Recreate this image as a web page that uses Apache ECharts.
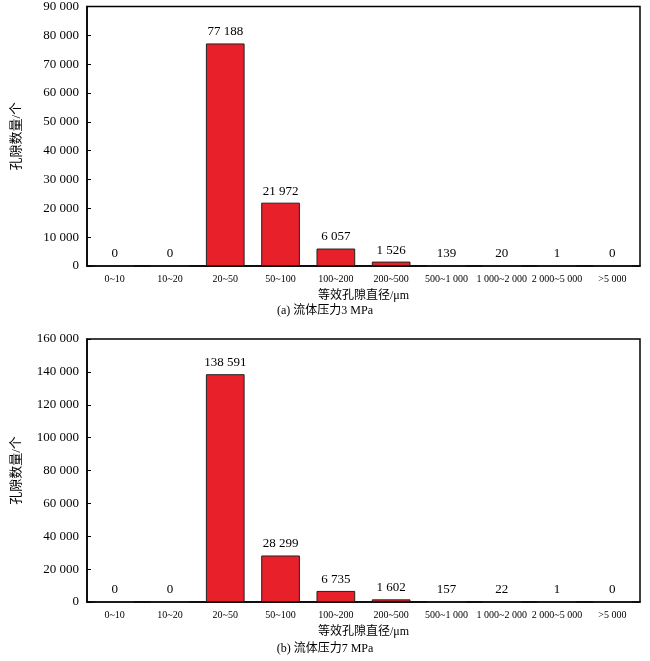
<!DOCTYPE html>
<html><head><meta charset="utf-8">
<script src="https://cdn.jsdelivr.net/npm/echarts@6/dist/echarts.min.js"></script>
<style>html,body{margin:0;padding:0;background:#fff}#c{width:650px;height:661px}</style>
</head><body><div id="c"></div>
<script>
var categories = ['0~10','10~20','20~50','50~100','100~200','200~500','500~1 000','1 000~2 000','2 000~5 000','>5 000'];
var valuesA = [0,0,77188,21972,6057,1526,139,20,1,0];
var valuesB = [0,0,138591,28299,6735,1602,157,22,1,0];
var font = '"Liberation Serif","Noto Sans CJK SC",serif';

function fmt(v){ return String(v).replace(/\B(?=(\d{3})+(?!\d))/g,' '); }

function xAxis(i){
  return {gridIndex:i,type:'category',data:categories,
    axisLine:{lineStyle:{color:'#000',width:1.5}},
    axisTick:{inside:true,length:4,lineStyle:{color:'#000'}},
    axisLabel:{color:'#000',fontFamily:font,fontSize:10,interval:0,margin:8},
    name:'等效孔隙直径/μm',nameLocation:'middle',nameGap:24,
    nameTextStyle:{color:'#000',fontFamily:font,fontSize:12}};
}
function yAxis(i,max,step){
  return {gridIndex:i,type:'value',min:0,max:max,interval:step,
    axisLine:{show:true,lineStyle:{color:'#000',width:1.5}},
    axisTick:{show:true,inside:true,length:4,lineStyle:{color:'#000'}},
    splitLine:{show:false},
    axisLabel:{color:'#000',fontFamily:font,fontSize:13,formatter:fmt},
    name:'孔隙数量/个',nameLocation:'middle',nameGap:64,
    nameTextStyle:{color:'#000',fontFamily:font,fontSize:13}};
}
function bars(i,data){
  return {type:'bar',xAxisIndex:i,yAxisIndex:i,data:data,barWidth:'70%',
    itemStyle:{color:'#e8202a',borderColor:'#222',borderWidth:1},
    label:{show:true,position:'top',color:'#000',fontFamily:font,fontSize:13,
      formatter:function(p){return fmt(p.value);}}};
}
var chart = echarts.init(document.getElementById('c'));
chart.setOption({
  animation:false,
  grid:[
    {left:87,right:10,top:5,height:261,show:true,borderColor:'#000',borderWidth:1.5},
    {left:87,right:10,top:339,height:263,show:true,borderColor:'#000',borderWidth:1.5}
  ],
  xAxis:[xAxis(0),xAxis(1)],
  yAxis:[yAxis(0,90000,10000),yAxis(1,160000,20000)],
  series:[bars(0,valuesA),bars(1,valuesB)],
  graphic:[
    {type:'text',left:'center',top:305,style:{text:'(a) 流体压力3 MPa',font:'12px '+font,fill:'#000'}},
    {type:'text',left:'center',top:643,style:{text:'(b) 流体压力7 MPa',font:'12px '+font,fill:'#000'}}
  ]
});
</script></body></html>
